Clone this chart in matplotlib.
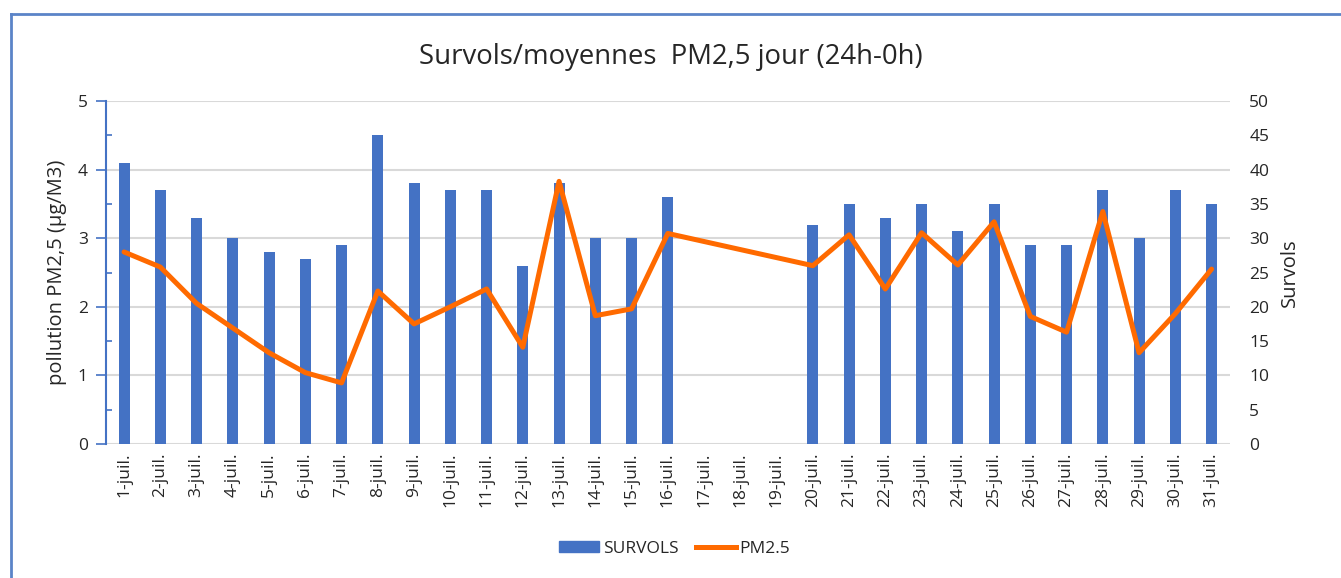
import matplotlib.pyplot as plt
import numpy as np
from matplotlib.lines import Line2D

# DONNEES
jours = [f"{d}-juil." for d in range(1, 32)]

# survols par jour (None = pas de donnee)
survols = [41, 37, 33, 30, 28, 27, 29, 45, 38, 37, 37, 26, 38, 30, 30, 36,
           None, None, None,
           32, 35, 33, 35, 31, 35, 29, 29, 37, 30, 37, 35]

# moyennes PM2,5 jour (µg/M3)
pm25 = [2.80, 2.58, 2.05, 1.69, 1.33, 1.04, 0.89, 2.23, 1.75, 2.00, 2.26,
        1.41, 3.83, 1.87, 1.97, 3.07,
        None, None, None,
        2.60, 3.05, 2.26, 3.08, 2.61, 3.24, 1.86, 1.63, 3.39, 1.33, 1.90, 2.55]

BLEU = '#4472C4'
ORANGE = '#FF6A00'
TEXTE = '#262626'
plt.rcParams['font.family'] = ['Open Sans', 'DejaVu Sans']

fig = plt.figure(figsize=(13.41, 5.78), dpi=100)
ax = fig.add_axes([0.079, 0.232, 0.838, 0.593])
ax2 = ax.twinx()

x = np.arange(len(jours))
s = np.array([np.nan if v is None else v for v in survols], dtype=float)
p = np.array([np.nan if v is None else v for v in pm25], dtype=float)

# barres sur l'axe de droite (Survols)
ax2.bar(x, np.nan_to_num(s), width=0.3, color=BLEU, zorder=2)
ax2.set_ylim(0, 50)
ax2.set_yticks(np.arange(0, 51, 5))

# ligne PM2.5 sur l'axe de gauche, points manquants relies
ok = ~np.isnan(p)
ax.set_zorder(ax2.get_zorder() + 1)
ax.patch.set_visible(False)
ax.plot(x[ok], p[ok], color=ORANGE, linewidth=3.6, solid_joinstyle='round',
        solid_capstyle='round', zorder=3)
ax.set_ylim(0, 5)
ax.set_xlim(-0.5, len(jours) - 0.5)
ax.set_yticks(np.arange(0, 6, 1))
ax.set_yticks(np.arange(0.5, 5, 1), minor=True)
ax.set_xticks(x)
ax.set_xticklabels(jours, rotation=90, fontsize=12.5, color=TEXTE)

# grille
for v in range(0, 51, 10):
    ax2.axhline(v, color='#D9D9D9', linewidth=1.5, zorder=0)

for a in (ax, ax2):
    for sp in a.spines.values():
        sp.set_visible(False)

ax.spines['left'].set_visible(True)
ax.spines['left'].set_color(BLEU)
ax.spines['left'].set_linewidth(1.5)
ax.tick_params(axis='y', which='major', direction='out', length=7, color=BLEU,
               width=1.2, labelsize=12.5, labelcolor=TEXTE, pad=6)
ax.tick_params(axis='y', which='minor', direction='in', length=4, color=BLEU, width=1.2)
ax.tick_params(axis='x', length=0, pad=6)
ax2.tick_params(axis='y', length=0, labelsize=12.5, labelcolor=TEXTE, pad=14)

ax.set_ylabel('pollution PM2,5 (µg/M3)', fontsize=14.5, color=TEXTE, labelpad=8)
ax2.set_ylabel('Survols', fontsize=14.5, color=TEXTE, labelpad=8)

fig.suptitle('Survols/moyennes  PM2,5 jour (24h-0h)', fontsize=19.8, color=TEXTE, y=0.925)

# legende
poignees = [plt.Rectangle((0, 0), 1, 1, color=BLEU),
            Line2D([0], [0], color=ORANGE, linewidth=3.6)]
fig.legend(poignees, ['SURVOLS', 'PM2.5'], loc='center', bbox_to_anchor=(0.503, 0.05),
           ncol=2, frameon=False, fontsize=12.5, handlelength=2.3, handleheight=0.6,
           handletextpad=0.2, columnspacing=1.0, labelcolor=TEXTE)

# cadre du graphique
fig.add_artist(Line2D([11 / 1341, 1], [1 - 14 / 578, 1 - 14 / 578], color='#5B84C8', linewidth=2))
fig.add_artist(Line2D([11 / 1341, 11 / 1341], [0, 1 - 14 / 578], color='#5B84C8', linewidth=2))

fig.savefig('out.png', dpi=100)
